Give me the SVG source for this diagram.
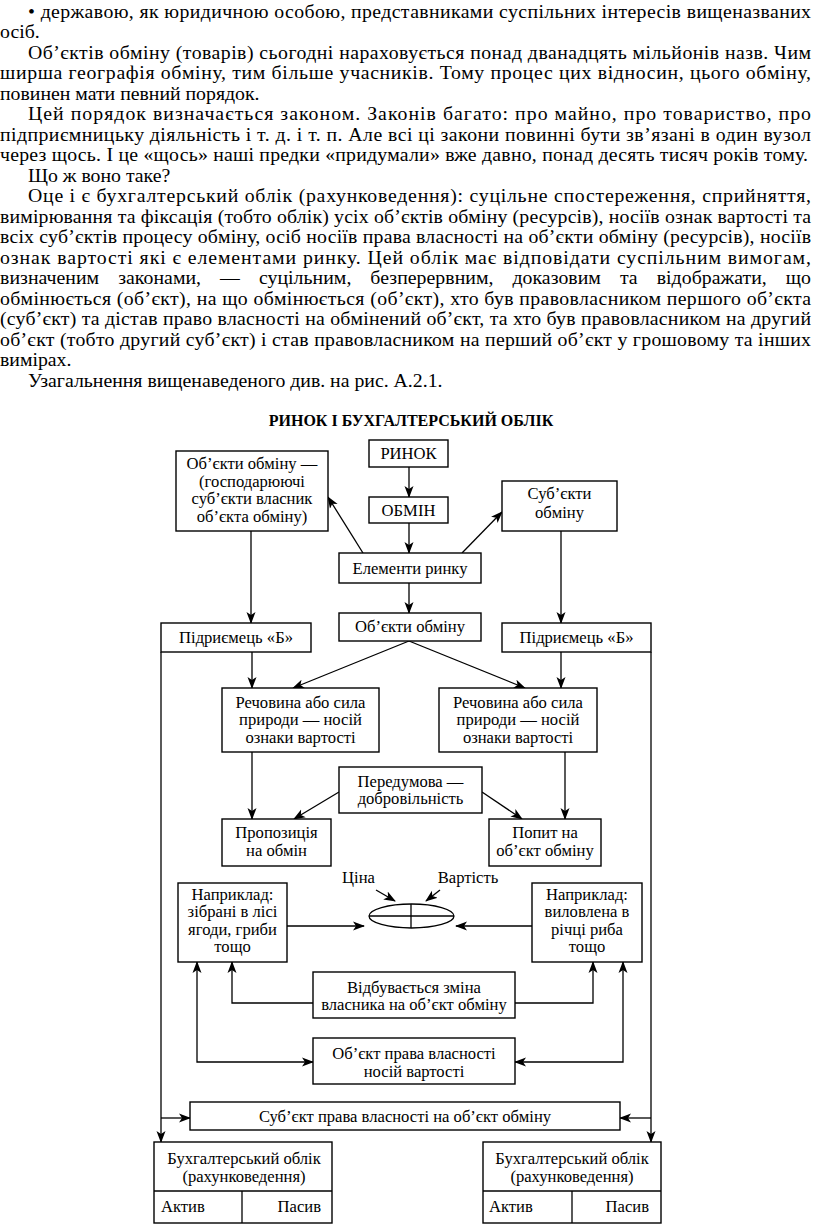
<svg xmlns="http://www.w3.org/2000/svg" width="816" height="1227" viewBox="0 0 816 1227">
<style>
.t{font-family:"Liberation Serif","Times New Roman",serif;font-size:19.8px;fill:#000}
.d{font-family:"Liberation Serif","Times New Roman",serif;font-size:16.6px;fill:#000;text-anchor:middle}
.dl{font-family:"Liberation Serif","Times New Roman",serif;font-size:16.6px;fill:#000}
.h{font-family:"Liberation Serif","Times New Roman",serif;font-size:16px;font-weight:bold;fill:#000;text-anchor:middle}
.b{fill:#fff;stroke:#000;stroke-width:1.4}
.c{fill:none;stroke:#000;stroke-width:1.3}
.ca{fill:none;stroke:#000;stroke-width:1.3;marker-end:url(#ah)}
.cb{fill:none;stroke:#000;stroke-width:1.3;marker-end:url(#ah);marker-start:url(#ah)}
</style>
<defs>
<marker id="ah" viewBox="0 0 12 10" refX="11" refY="5" markerWidth="12" markerHeight="10" markerUnits="userSpaceOnUse" orient="auto-start-reverse">
<path d="M0,0.5 L12,5 L0,9.5 L3,5 Z" fill="#000"/>
</marker>
</defs>
<rect width="816" height="1227" fill="#fff"/>

<g id="body-text">
<text class="t" x="28" y="17.5" textLength="783" lengthAdjust="spacing">• державою, як юридичною особою, представниками суспільних інтересів вищеназваних</text>
<text class="t" x="0" y="38">осіб.</text>
<text class="t" x="28" y="58.5" textLength="783" lengthAdjust="spacing">Об’єктів обміну (товарів) сьогодні нараховується понад дванадцять мільйонів назв. Чим</text>
<text class="t" x="0" y="79" textLength="811" lengthAdjust="spacing">ширша географія обміну, тим більше учасників. Тому процес цих відносин, цього обміну,</text>
<text class="t" x="0" y="99.5">повинен мати певний порядок.</text>
<text class="t" x="28" y="120" textLength="783" lengthAdjust="spacing">Цей порядок визначається законом. Законів багато: про майно, про товариство, про</text>
<text class="t" x="0" y="140.5" textLength="811" lengthAdjust="spacing">підприємницьку діяльність і т. д. і т. п. Але всі ці закони повинні бути зв’язані в один вузол</text>
<text class="t" x="0" y="161" textLength="808" lengthAdjust="spacing">через щось. І це «щось» наші предки «придумали» вже давно, понад десять тисяч років тому.</text>
<text class="t" x="28" y="181.5">Що ж воно таке?</text>
<text class="t" x="28" y="202" textLength="783" lengthAdjust="spacing">Оце і є бухгалтерський облік (рахунковедення): суцільне спостереження, сприйняття,</text>
<text class="t" x="0" y="222.5" textLength="811" lengthAdjust="spacing">вимірювання та фіксація (тобто облік) усіх об’єктів обміну (ресурсів), носіїв ознак вартості та</text>
<text class="t" x="0" y="243" textLength="811" lengthAdjust="spacing">всіх суб’єктів процесу обміну, осіб носіїв права власності на об’єкти обміну (ресурсів), носіїв</text>
<text class="t" x="0" y="263.5" textLength="811" lengthAdjust="spacing">ознак вартості які є елементами ринку. Цей облік має відповідати суспільним вимогам,</text>
<text class="t" x="0" y="284" textLength="811" lengthAdjust="spacing" word-spacing="14">визначеним законами, — суцільним, безперервним, доказовим та відображати, що</text>
<text class="t" x="0" y="304.5" textLength="811" lengthAdjust="spacing">обмінюється (об’єкт), на що обмінюється (об’єкт), хто був правовласником першого об’єкта</text>
<text class="t" x="0" y="325" textLength="811" lengthAdjust="spacing">(суб’єкт) та дістав право власності на обмінений об’єкт, та хто був правовласником на другий</text>
<text class="t" x="0" y="345.5" textLength="811" lengthAdjust="spacing">об’єкт (тобто другий суб’єкт) і став правовласником на перший об’єкт у грошовому та інших</text>
<text class="t" x="0" y="366">вимірах.</text>
<text class="t" x="28" y="386.5">Узагальнення вищенаведеного див. на рис. А.2.1.</text>
</g>

<text class="h" x="411" y="426">РИНОК І БУХГАЛТЕРСЬКИЙ ОБЛІК</text>

<g id="connectors">
<line class="ca" x1="409" y1="467" x2="409" y2="497"/>
<line class="ca" x1="409" y1="523" x2="409" y2="553"/>
<line class="ca" x1="363" y1="553" x2="328" y2="497"/>
<line class="ca" x1="462" y1="553" x2="502" y2="512"/>
<line class="ca" x1="251" y1="531" x2="251" y2="623"/>
<line class="ca" x1="561" y1="531" x2="561" y2="623"/>
<line class="ca" x1="409" y1="583" x2="409" y2="613"/>
<line class="ca" x1="409" y1="641" x2="293" y2="688"/>
<line class="ca" x1="409" y1="641" x2="525" y2="688"/>
<line class="ca" x1="252" y1="652" x2="252" y2="688"/>
<line class="ca" x1="561" y1="652" x2="561" y2="688"/>
<line class="ca" x1="252" y1="752" x2="252" y2="819"/>
<line class="ca" x1="565" y1="752" x2="565" y2="819"/>
<line class="ca" x1="339" y1="792" x2="294" y2="819"/>
<line class="ca" x1="482" y1="792" x2="522" y2="819"/>
<line class="ca" x1="376" y1="890" x2="395" y2="901"/>
<line class="ca" x1="440" y1="890" x2="426" y2="901"/>
<line class="ca" x1="287" y1="926" x2="364" y2="926"/>
<line class="ca" x1="532" y1="926" x2="456" y2="926"/>
<polyline class="ca" points="313,1003 232,1003 232,962"/>
<polyline class="ca" points="515,1003 593,1003 593,962"/>
<polyline class="cb" points="197,962 197,1062 313,1062"/>
<polyline class="cb" points="623,962 623,1062 515,1062"/>
<line class="ca" x1="161" y1="652" x2="161" y2="1142"/>
<line class="ca" x1="161" y1="1118" x2="190" y2="1118"/>
<line class="ca" x1="651" y1="652" x2="651" y2="1142"/>
<line class="ca" x1="651" y1="1118" x2="620" y2="1118"/>
</g>

<g id="rynok"><rect class="b" x="369" y="440" width="79" height="27"/><text class="d" x="408.5" y="459">РИНОК</text></g>
<g id="obmin"><rect class="b" x="369" y="497" width="79" height="26"/><text class="d" x="408.5" y="516">ОБМІН</text></g>
<g id="obiekty-left"><rect class="b" x="176" y="451" width="152" height="80"/>
<text class="d" x="252" y="468.5">Об’єкти обміну —</text>
<text class="d" x="252" y="486.5">(господарюючі</text>
<text class="d" x="252" y="504">суб’єкти власник</text>
<text class="d" x="252" y="522">об’єкта обміну)</text></g>
<g id="subiekty"><rect class="b" x="502" y="481" width="115" height="50"/>
<text class="d" x="559.5" y="499">Суб’єкти</text>
<text class="d" x="559.5" y="517.5">обміну</text></g>
<g id="elementy"><rect class="b" x="339" y="553" width="142" height="30"/><text class="d" x="410" y="574">Елементи ринку</text></g>
<g id="obiekty-center"><rect class="b" x="339" y="613" width="142" height="28"/><text class="d" x="410" y="632">Об’єкти обміну</text></g>
<g id="pidr-left"><rect class="b" x="161" y="623" width="150" height="29"/><text class="d" x="236" y="643">Підриємець «Б»</text></g>
<g id="pidr-right"><rect class="b" x="502" y="623" width="149" height="29"/><text class="d" x="576.5" y="643">Підриємець «Б»</text></g>
<g id="rechovyna-left"><rect class="b" x="222" y="688" width="157" height="64"/>
<text class="d" x="300.5" y="707.5">Речовина або сила</text>
<text class="d" x="300.5" y="725">природи — носій</text>
<text class="d" x="300.5" y="742.5">ознаки вартості</text></g>
<g id="rechovyna-right"><rect class="b" x="439" y="688" width="158" height="64"/>
<text class="d" x="518" y="707.5">Речовина або сила</text>
<text class="d" x="518" y="725">природи — носій</text>
<text class="d" x="518" y="742.5">ознаки вартості</text></g>
<g id="peredumova"><rect class="b" x="339" y="767" width="143" height="46"/>
<text class="d" x="410.5" y="786.5">Передумова —</text>
<text class="d" x="410.5" y="804">добровільність</text></g>
<g id="propozytsia"><rect class="b" x="222" y="819" width="109" height="47"/>
<text class="d" x="276.5" y="838">Пропозиція</text>
<text class="d" x="276.5" y="855.5">на обмін</text></g>
<g id="popyt"><rect class="b" x="489" y="819" width="112" height="47"/>
<text class="d" x="545" y="838">Попит на</text>
<text class="d" x="545" y="855.5">об’єкт обміну</text></g>
<g id="napryklad-left"><rect class="b" x="178" y="883" width="109" height="79"/>
<text class="d" x="232.5" y="899.5">Наприклад:</text>
<text class="d" x="232.5" y="917">зібрані в лісі</text>
<text class="d" x="232.5" y="934.5">ягоди, гриби</text>
<text class="d" x="232.5" y="952">тощо</text></g>
<g id="napryklad-right"><rect class="b" x="532" y="883" width="110" height="79"/>
<text class="d" x="587" y="899.5">Наприклад:</text>
<text class="d" x="587" y="917">виловлена в</text>
<text class="d" x="587" y="934.5">річці риба</text>
<text class="d" x="587" y="952">тощо</text></g>
<g id="tsina-vartist">
<ellipse class="c" cx="411.5" cy="916" rx="42.5" ry="12"/>
<line class="c" x1="369" y1="916" x2="454" y2="916"/>
<line class="c" x1="411" y1="904" x2="411" y2="928"/>
<text class="d" x="358.5" y="883">Ціна</text>
<text class="d" x="468" y="883">Вартість</text></g>
<g id="vidbuvaietsia"><rect class="b" x="313" y="972" width="202" height="46"/>
<text class="d" x="414" y="992.5">Відбувається зміна</text>
<text class="d" x="414" y="1010">власника на об’єкт обміну</text></g>
<g id="obiekt-prava"><rect class="b" x="313" y="1038" width="202" height="46"/>
<text class="d" x="414" y="1059">Об’єкт права власності</text>
<text class="d" x="414" y="1077">носій вартості</text></g>
<g id="subiekt-prava"><rect class="b" x="190" y="1102" width="430" height="28"/>
<text class="d" x="405" y="1122">Суб’єкт права власності на об’єкт обміну</text></g>
<g id="buh-left"><rect class="b" x="154" y="1142" width="178" height="81"/>
<line class="c" x1="154" y1="1191" x2="332" y2="1191"/>
<line class="c" x1="242" y1="1191" x2="242" y2="1223"/>
<text class="d" x="244" y="1163.5">Бухгалтерський облік</text>
<text class="d" x="244" y="1182">(рахунковедення)</text>
<text class="dl" x="161" y="1212">Актив</text>
<text class="dl" x="321" y="1212" text-anchor="end">Пасив</text></g>
<g id="buh-right"><rect class="b" x="483" y="1142" width="178" height="81"/>
<line class="c" x1="483" y1="1191" x2="661" y2="1191"/>
<line class="c" x1="572" y1="1191" x2="572" y2="1223"/>
<text class="d" x="572" y="1163.5">Бухгалтерський облік</text>
<text class="d" x="572" y="1182">(рахунковедення)</text>
<text class="dl" x="489" y="1212">Актив</text>
<text class="dl" x="649" y="1212" text-anchor="end">Пасив</text></g>
</svg>
